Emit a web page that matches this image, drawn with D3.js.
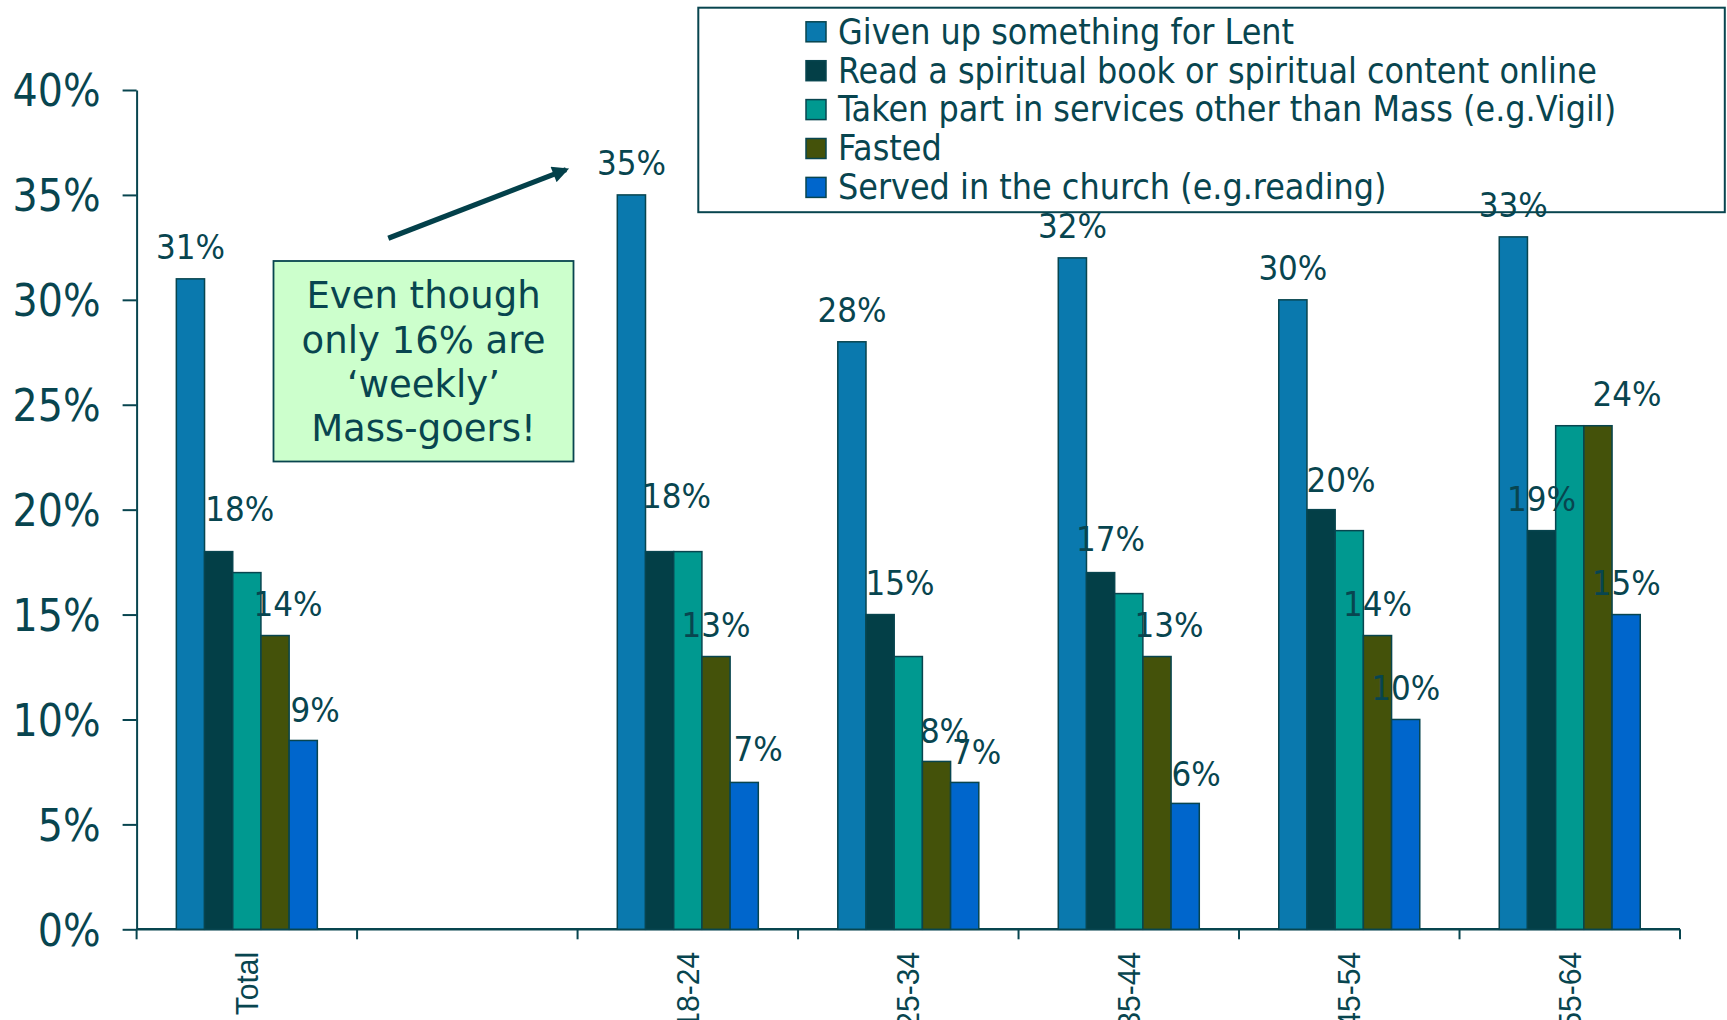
<!DOCTYPE html>
<html>
<head>
<meta charset="utf-8">
<script src="https://cdn.jsdelivr.net/npm/d3@7"></script>
<style>
  html, body { margin: 0; padding: 0; background: #ffffff; }
  svg { display: block; }
  .cond { font-family: "DejaVu Sans Condensed", "DejaVu Sans", sans-serif; font-stretch: condensed; }
</style>
</head>
<body>
<svg id="chart" width="1727" height="1020"></svg>
<script>
// Lent activities by age group (% of respondents)
const categories = ["Total", "", "18-24", "25-34", "35-44", "45-54", "55-64"];
const seriesNames = [
  "Given up something for Lent",
  "Read a spiritual book or spiritual content online",
  "Taken part in services other than Mass (e.g.Vigil)",
  "Fasted",
  "Served in the church (e.g.reading)"
];
const givenUp       = [31, null, 35, 28, 32, 30, 33];
const readSpiritual = [18, null, 18, 15, 17, 20, 19];
const otherServices = [17, null, 18, 13, 16, 19, 24];
const fasted        = [14, null, 13,  8, 13, 14, 24];
const served        = [ 9, null,  7,  7,  6, 10, 15];
const yTicks = [0, 5, 10, 15, 20, 25, 30, 35, 40];

const seriesValues = [givenUp, readSpiritual, otherServices, fasted, served];
const seriesColors = ["#0a79ae", "#033f47", "#009990", "#44520a", "#0066cc"];
const seriesLabelled = [true, true, false, true, true];

// hand-placed value labels: [dx, dy] pixel nudges per series and category
const labelNudges = [
  [[0,0],[0,0],[0,0],[0,0],[0,0],[0,0],[0,0]],
  [[21,-11],[0,0],[17,-24],[20,0],[10,-2],[20,2],[0,0]],
  [[0,0],[0,0],[0,0],[0,0],[0,0],[0,0],[0,0]],
  [[13,0],[0,0],[0,0],[8,1],[12,0],[0,0],[29,0]],
  [[12,1],[0,0],[14,-2],[12,1],[11,2],[0,0],[0,0]]
];

const ink = "#08454f";
const svg = d3.select("#chart");

const x = d3.scaleBand().domain(d3.range(categories.length)).range([136.6, 1680]).padding(0);
const y = d3.scaleLinear().domain([0, 40]).range([929.3, 90]);
const groupWidth = 141;
const xs = d3.scaleBand().domain(d3.range(seriesNames.length)).range([-groupWidth / 2, groupWidth / 2]).padding(0);

// y axis
const yAxis = svg.append("g")
  .attr("transform", `translate(${x.range()[0]},0)`)
  .call(d3.axisLeft(y).tickValues(yTicks).tickFormat(d => d + "%").tickSize(14).tickSizeOuter(0).tickPadding(22));
yAxis.select(".domain").attr("stroke", ink).attr("stroke-width", 2);
yAxis.selectAll(".tick line").attr("stroke", ink).attr("stroke-width", 2);
yAxis.selectAll(".tick text")
  .attr("class", "cond")
  .attr("fill", ink)
  .style("font-size", "44px")
  .attr("dy", "0.36em");

// x axis line, boundary ticks and rotated category labels
const xAxis = svg.append("g").attr("transform", `translate(0,${y(0)})`);
xAxis.append("line")
  .attr("x1", x.range()[0]).attr("x2", x.range()[1])
  .attr("stroke", ink).attr("stroke-width", 2.5);
const bounds = d3.range(categories.length).map(i => x(i)).concat([x.range()[1]]);
xAxis.selectAll("line.bound").data(bounds).join("line")
  .attr("class", "bound")
  .attr("x1", d => d).attr("x2", d => d)
  .attr("y1", 0).attr("y2", 10)
  .attr("stroke", ink).attr("stroke-width", 2);
xAxis.selectAll("text.cat").data(categories).join("text")
  .attr("class", "cat")
  .attr("transform", (d, i) => `translate(${x(i) + x.bandwidth() / 2},${22.5}) rotate(-90) scale(0.97,1)`)
  .attr("text-anchor", "end")
  .attr("dy", "0.35em")
  .attr("fill", ink)
  .style("font-family", "'Liberation Sans', Arial, sans-serif")
  .style("font-size", "31px")
  .text(d => d);

// bars
const bars = [];
seriesValues.forEach((vals, s) => {
  vals.forEach((v, c) => {
    if (v !== null) bars.push({ s, c, v });
  });
});
svg.append("g").selectAll("rect").data(bars).join("rect")
  .attr("x", d => x(d.c) + x.bandwidth() / 2 + xs(d.s))
  .attr("y", d => y(d.v))
  .attr("width", xs.bandwidth())
  .attr("height", d => y(0) - y(d.v))
  .attr("fill", d => seriesColors[d.s])
  .attr("stroke", ink)
  .attr("stroke-width", 1.5);

// value labels
svg.append("g").selectAll("text").data(bars.filter(d => seriesLabelled[d.s])).join("text")
  .attr("class", "cond")
  .attr("x", d => x(d.c) + x.bandwidth() / 2 + xs(d.s) + xs.bandwidth() / 2 + labelNudges[d.s][d.c][0])
  .attr("y", d => y(d.v) - 19.5 + labelNudges[d.s][d.c][1])
  .attr("text-anchor", "middle")
  .attr("fill", ink)
  .style("font-size", "34.5px")
  .text(d => d.v + "%");

// legend
const legend = svg.append("g");
legend.append("rect")
  .attr("x", 698.3).attr("y", 7.7).attr("width", 1026.5).attr("height", 204.5)
  .attr("fill", "#ffffff").attr("fill-opacity", 0)
  .attr("stroke", ink).attr("stroke-width", 2);
const rows = legend.selectAll("g.row").data(seriesNames).join("g")
  .attr("class", "row")
  .attr("transform", (d, i) => `translate(806,${31.8 + i * 38.9})`);
rows.append("rect")
  .attr("x", 0).attr("y", -10).attr("width", 20).attr("height", 20)
  .attr("fill", (d, i) => seriesColors[i])
  .attr("stroke", ink).attr("stroke-width", 1.5);
rows.append("text")
  .attr("class", "cond")
  .attr("x", 32).attr("y", 11.8)
  .attr("fill", ink)
  .style("font-size", "35.5px")
  .text(d => d);

// annotation arrow and callout box
const defs = svg.append("defs");
defs.append("marker")
  .attr("id", "arrowhead")
  .attr("viewBox", "0 0 10 10")
  .attr("refX", 8).attr("refY", 5)
  .attr("markerWidth", 3.4).attr("markerHeight", 3.2)
  .attr("orient", "auto")
  .append("path").attr("d", "M0,0 L10,5 L0,10 Z").attr("fill", "#03404a");
svg.append("line")
  .attr("x1", 388.3).attr("y1", 238.3).attr("x2", 566).attr("y2", 169.6)
  .attr("stroke", "#03404a").attr("stroke-width", 5.2)
  .attr("marker-end", "url(#arrowhead)");

svg.append("rect")
  .attr("x", 273.5).attr("y", 261).attr("width", 300).attr("height", 200.5)
  .attr("fill", "#ccffcc").attr("stroke", ink).attr("stroke-width", 1.8);
const noteLines = ["Even though", "only 16% are", "\u2018weekly\u2019", "Mass-goers!"];
svg.append("g").selectAll("text").data(noteLines).join("text")
  .attr("x", 423.5)
  .attr("y", (d, i) => 308.3 + i * 44.2)
  .attr("text-anchor", "middle")
  .attr("fill", ink)
  .style("font-family", "'DejaVu Sans', Verdana, sans-serif")
  .style("font-size", "37px")
  .text(d => d);
</script>
</body>
</html>
